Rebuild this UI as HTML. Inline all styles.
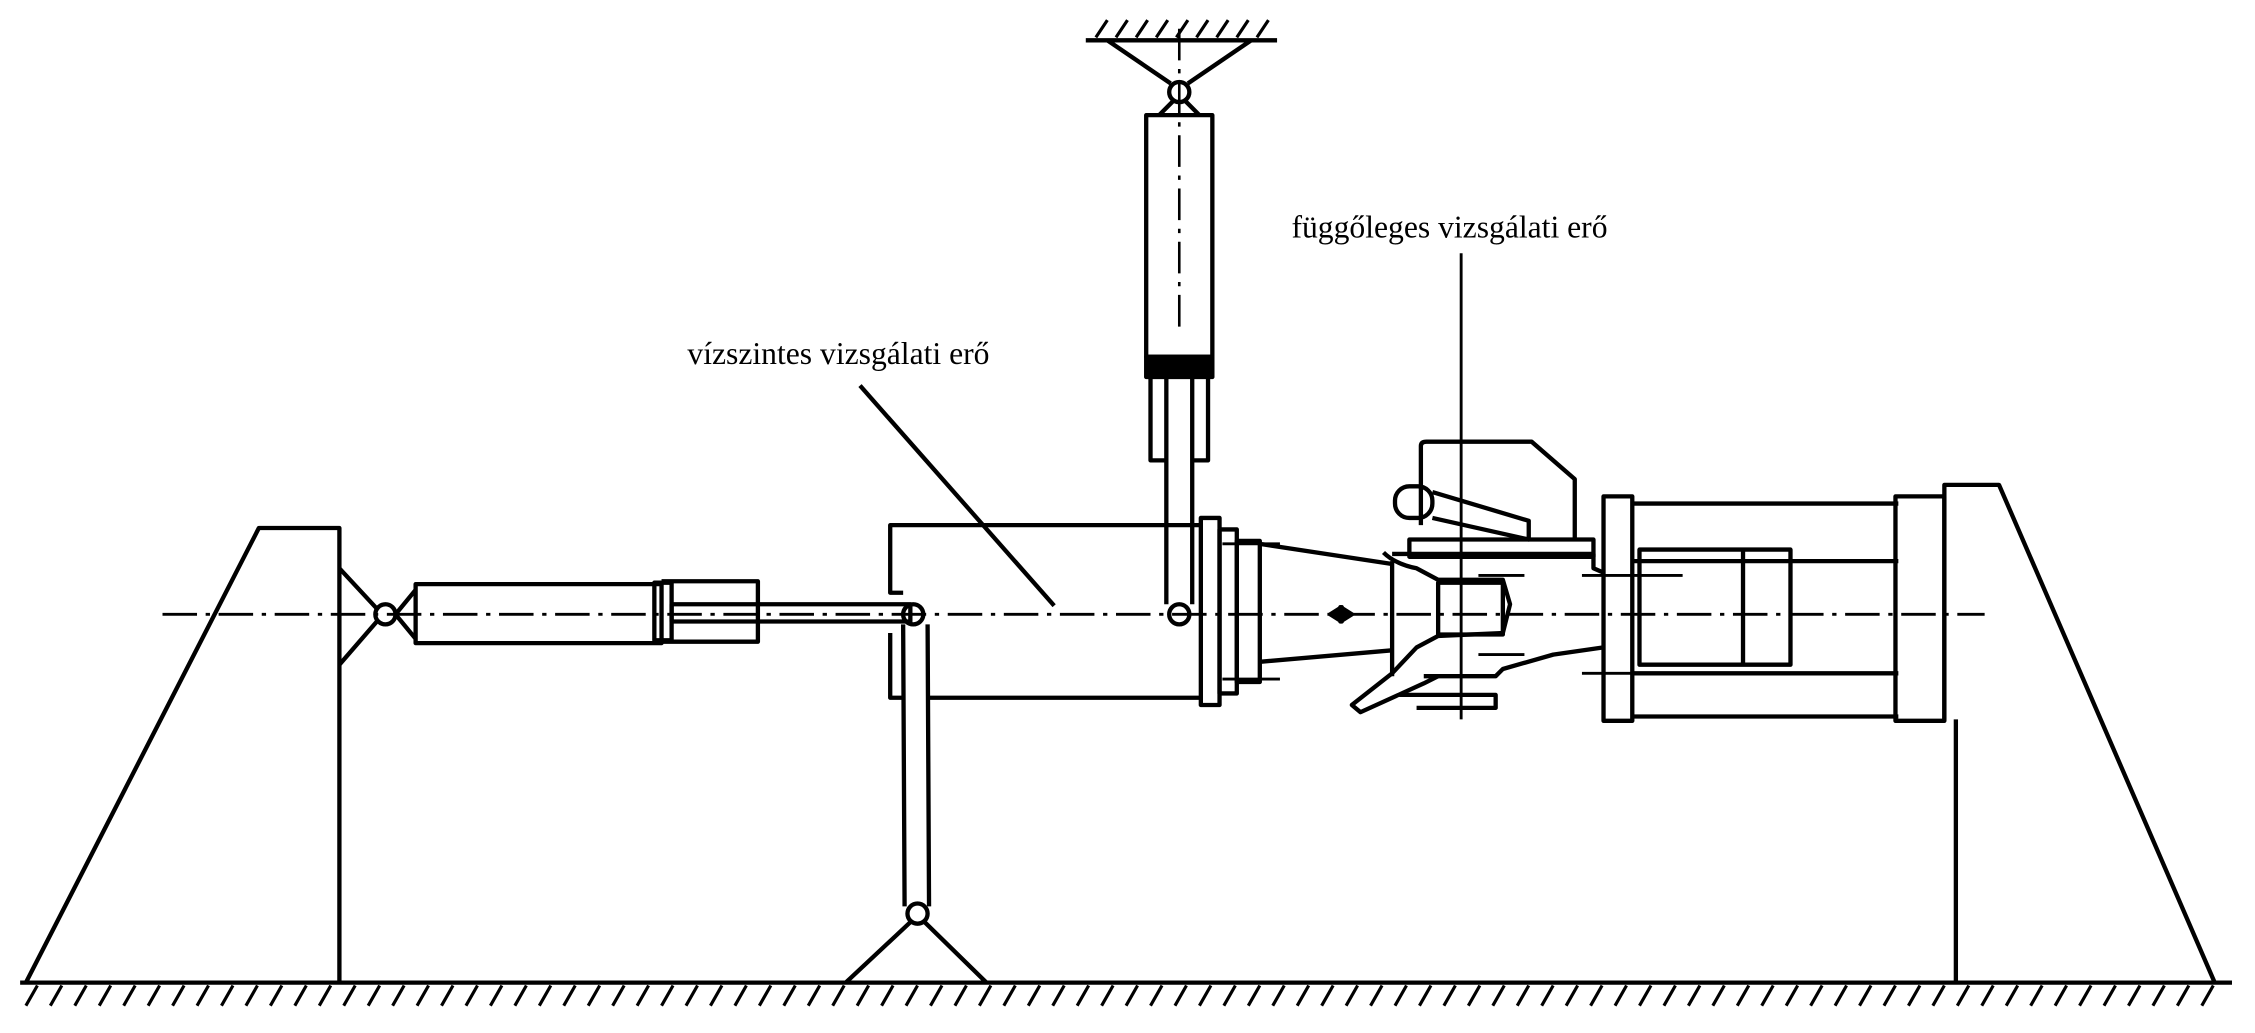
<!DOCTYPE html>
<html><head><meta charset="utf-8"><style>
html,body{margin:0;padding:0;background:#fff;}
svg{display:block;}
text{font-family:"Liberation Serif",serif;font-size:22px;fill:#000;}
</style></head><body>
<svg width="2255" height="1033" viewBox="0 0 1568 718" preserveAspectRatio="none" xmlns="http://www.w3.org/2000/svg">
<g fill="none" stroke="#000" stroke-width="3" stroke-linejoin="round">
<!-- ground -->
<line x1="14" y1="683" x2="1552" y2="683" stroke-width="3"/>
<g stroke-width="2.2">
<path d="M26 685 l-8 14 M43 685 l-8 14 M60 685 l-8 14 M77 685 l-8 14 M94 685 l-8 14 M111 685 l-8 14 M128 685 l-8 14 M145 685 l-8 14 M162 685 l-8 14 M179 685 l-8 14 M196 685 l-8 14 M213 685 l-8 14 M230 685 l-8 14 M247 685 l-8 14 M264 685 l-8 14 M281 685 l-8 14 M298 685 l-8 14 M315 685 l-8 14 M332 685 l-8 14 M349 685 l-8 14 M366 685 l-8 14 M383 685 l-8 14 M400 685 l-8 14 M417 685 l-8 14 M434 685 l-8 14 M451 685 l-8 14 M468 685 l-8 14 M485 685 l-8 14 M502 685 l-8 14 M519 685 l-8 14 M536 685 l-8 14 M553 685 l-8 14 M570 685 l-8 14 M587 685 l-8 14 M604 685 l-8 14 M621 685 l-8 14 M638 685 l-8 14 M655 685 l-8 14 M672 685 l-8 14 M689 685 l-8 14 M706 685 l-8 14 M723 685 l-8 14 M740 685 l-8 14 M757 685 l-8 14 M774 685 l-8 14 M791 685 l-8 14 M808 685 l-8 14 M825 685 l-8 14 M842 685 l-8 14 M859 685 l-8 14 M876 685 l-8 14 M893 685 l-8 14 M910 685 l-8 14 M927 685 l-8 14 M944 685 l-8 14 M961 685 l-8 14 M978 685 l-8 14 M995 685 l-8 14 M1012 685 l-8 14 M1029 685 l-8 14 M1046 685 l-8 14 M1063 685 l-8 14 M1080 685 l-8 14 M1097 685 l-8 14 M1114 685 l-8 14 M1131 685 l-8 14 M1148 685 l-8 14 M1165 685 l-8 14 M1182 685 l-8 14 M1199 685 l-8 14 M1216 685 l-8 14 M1233 685 l-8 14 M1250 685 l-8 14 M1267 685 l-8 14 M1284 685 l-8 14 M1301 685 l-8 14 M1318 685 l-8 14 M1335 685 l-8 14 M1352 685 l-8 14 M1369 685 l-8 14 M1386 685 l-8 14 M1403 685 l-8 14 M1420 685 l-8 14 M1437 685 l-8 14 M1454 685 l-8 14 M1471 685 l-8 14 M1488 685 l-8 14 M1505 685 l-8 14 M1522 685 l-8 14 M1539 685 l-8 14"/>
</g>
<!-- left pedestal -->
<path d="M18 683 L180 367 L236 367 L236 683"/>
<!-- right pedestal -->
<path d="M1540 683 L1390 337 L1352 337 L1352 500"/>
<line x1="1360" y1="500" x2="1360" y2="683"/>
<!-- centerline -->
<line x1="113" y1="427" x2="1380" y2="427" stroke-width="2" stroke-dasharray="24 6 3 6"/>
<!-- left pivot -->
<path d="M236 395 L262 423 M236 462 L262 432"/>
<circle cx="268" cy="427" r="7"/>
<path d="M275 427 L289 410 M275 427 L289 444"/>
<rect x="289" y="406" width="171" height="41"/>
<path d="M460 404 L527 404 L527 446 L460 446"/>
<rect x="455" y="405" width="12" height="40"/>
<rect x="467" y="420" width="166" height="12"/>
<!-- link -->
<circle cx="635" cy="427" r="7"/>
<path d="M628 434 L629 630 M645 434 L646 630"/>
<circle cx="638" cy="635" r="7"/>
<path d="M633 641 L588 683 M643 641 L686 683"/>
<!-- main block -->
<path d="M628 412 L619 412 L619 365 L835 365 M619 440 L619 485 L628 485 M645 485 L835 485"/>
<rect x="835" y="360" width="13" height="130"/>
<rect x="848" y="368" width="12" height="114"/>
<rect x="860" y="376" width="16" height="98"/>
<g stroke-width="2"><path d="M850 378 L890 378 M850 472 L890 472"/></g>
<!-- vertical cylinder -->
<line x1="755" y1="28" x2="888" y2="28" stroke-width="3"/>
<g stroke-width="2.2"><path d="M762 26 l8 -12 M776 26 l8 -12 M790 26 l8 -12 M804 26 l8 -12 M818 26 l8 -12 M832 26 l8 -12 M846 26 l8 -12 M860 26 l8 -12 M874 26 l8 -12"/></g>
<path d="M770 28 L814 58 M870 28 L826 58"/>
<circle cx="820" cy="64" r="7"/>
<path d="M816 70 L806 80 M824 70 L834 80"/>
<rect x="797" y="80" width="46" height="168"/>
<rect x="797" y="248" width="46" height="14" fill="#000"/>
<path d="M800 262 L800 320 L811 320 M840 262 L840 320 L829 320"/>
<path d="M811 262 L811 420 M829 262 L829 420"/>
<line x1="820" y1="20" x2="820" y2="230" stroke-width="1.8" stroke-dasharray="22 6 3 6"/>
<circle cx="820" cy="427" r="7"/>
<!-- labels & leaders -->
<line x1="598" y1="268" x2="733" y2="421"/>
<line x1="1016" y1="176" x2="1016" y2="500" stroke-width="2"/>
<!-- cone -->
<path d="M876 378 L968 392 M876 460 L968 452"/>
<path d="M925 427 l8 -5 l0 10 z M940 427 l-8 -5 l0 10 z" fill="#000"/>
<!-- hitch -->
<path d="M988 365 L988 310 Q988 307 992 307 L1065 307 L1095 333 L1095 375"/>
<rect x="970" y="338" width="26" height="22" rx="10"/>
<path d="M996 342 L1063 362 L1063 375 L996 360"/>
<rect x="980" y="375" width="128" height="12"/>
<path d="M968 385 L1108 385 L1108 395 L1115 398"/>
<path d="M968 390 L968 470"/>
<path d="M962 384 Q970 392 985 395 L1000 403 L1045 403 L1050 420 L1045 440 L1000 442 L985 450 L968 468 L940 490 L946 495 L990 475 L1000 470"/>
<rect x="1000" y="405" width="45" height="36"/>
<path d="M990 470 L1040 470 L1045 465 L1080 455 L1115 450"/>
<path d="M973 483 L1040 483 L1040 492 L985 492"/>
<g stroke-width="2"><path d="M1028 400 L1060 400 M1028 455 L1060 455 M1100 400 L1170 400 M1100 468 L1170 468"/></g>
<!-- right unit -->
<rect x="1115" y="345" width="20" height="156"/>
<path d="M1135 350 L1320 350 M1135 390 L1320 390 M1135 468 L1320 468 M1135 498 L1320 498"/>
<rect x="1140" y="382" width="105" height="80"/>
<line x1="1212" y1="382" x2="1212" y2="462"/>
<rect x="1318" y="345" width="34" height="156"/>
</g>
<text x="478" y="253">vízszintes vizsgálati erő</text>
<text x="898" y="165">függőleges vizsgálati erő</text>
</svg>
</body></html>
